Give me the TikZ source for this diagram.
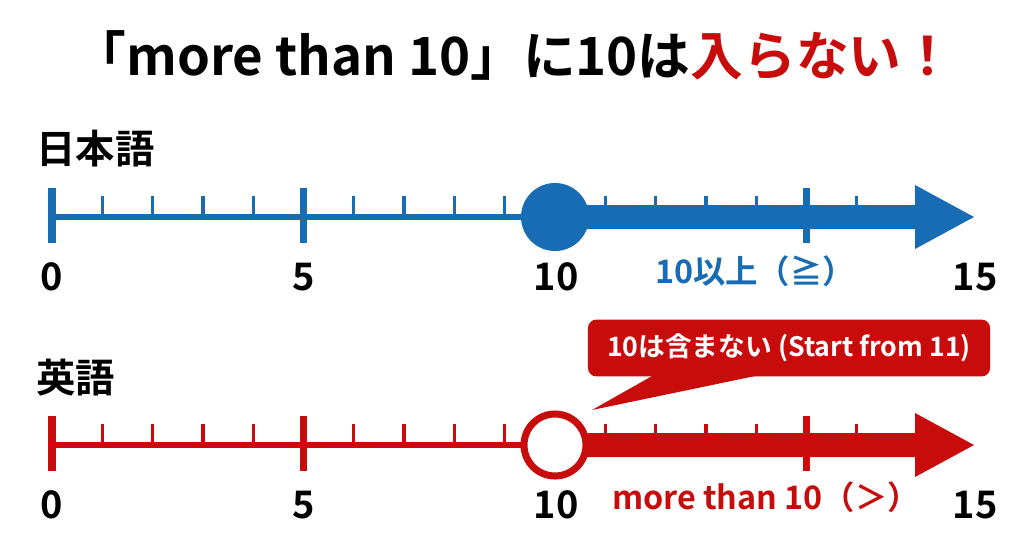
\documentclass[tikz,border=0pt]{standalone}
\usepackage{fontspec}
\setmainfont{Noto Sans CJK JP Bold}
\usepackage{tikz}
\usetikzlibrary{arrows.meta, calc, positioning}
\definecolor{jpblue}{RGB}{24,108,180}
\definecolor{enred}{RGB}{200,12,12}
\tikzset{
  numlabel/.style={font=\fontsize{27}{27}\selectfont, text=black, inner sep=0pt},
  langlabel/.style={font=\fontsize{28}{28}\selectfont, text=black, anchor=west, inner sep=0pt},
  baseline/.style={line width=4.6pt},
  majortick/.style={line width=5.4pt},
  minortick/.style={line width=2.3pt},
}

\begin{document}
\begin{tikzpicture}[x=0.025cm,y=-0.025cm]
    \useasboundingbox[fill=white] (0,0) rectangle (1024,559);
    % title
    \node[font=\fontsize{37.5}{37.5}\selectfont, inner sep=0pt] (title) at (514,55) {「more than 10」に10は\textcolor{enred}{入らない！}};

    % Japanese: 10 included
    \begin{scope}[shift={(0,217)}, jpblue]
        \node[langlabel] (jp) at (36,-68) {日本語};
        \draw[baseline] (52,0) -- (555,0); % axis
        \foreach \i in {1,2,3,4,6,7,8,9,11,12,13,14,16}
            \draw[minortick] (52+50.3*\i,-3) -- ++(0,-18);
        \foreach \i in {0,5,15}
            \draw[majortick] (52+50.3*\i,-29) -- ++(0,55);
        \fill (555,-12) -- (915,-12) -- (915,-32) -- (974,0) -- (915,32) -- (915,12) -- (555,12) -- cycle; % thick arrow
        \fill (555,0) circle (34); % closed dot
        \node[numlabel] (jp0) at (52,60) {0};
        \node[numlabel] (jp5) at (304,60) {5};
        \node[numlabel] (jp10) at (556,60) {10};
        \node[numlabel] (jp15) at (975,60) {15};
        \node[font=\fontsize{23}{23}\selectfont, inner sep=0pt] (jpnote) at (755,54) {10以上（≧）};
    \end{scope}

    % English: 10 excluded
    \begin{scope}[shift={(0,445)}, enred]
        \node[langlabel] (en) at (36,-67) {英語};
        \draw[baseline] (52,0) -- (555,0); % axis
        \foreach \i in {1,2,3,4,6,7,8,9,11,12,13,14,16}
            \draw[minortick] (52+50.3*\i,-3) -- ++(0,-18);
        \foreach \i in {0,5,15}
            \draw[majortick] (52+50.3*\i,-29) -- ++(0,55);
        \fill (555,-12) -- (915,-12) -- (915,-32) -- (974,0) -- (915,32) -- (915,12) -- (555,12) -- cycle; % thick arrow
        \draw[line width=5pt, fill=white] (555,0) circle (31); % open dot
        \coordinate (entip) at (592,-35);
        \node[numlabel] (en0) at (52,60) {0};
        \node[numlabel] (en5) at (304,60) {5};
        \node[numlabel] (en10) at (556,60) {10};
        \node[numlabel] (en15) at (975,60) {15};
        \node[font=\fontsize{23}{23}\selectfont, inner sep=0pt] (ennote) at (766,52) {more than 10（＞）};
    \end{scope}

    % callout
    \node[fill=enred, rounded corners=6pt, minimum width=10.05cm, minimum height=1.42cm, text=white,
          font=\fontsize{19}{19}\selectfont] (callout) at (789,348) {10は含まない (Start from 11)};
    \fill[enred] ($(callout.south west)+(65,-1)$) -- (entip) -- ($(callout.south west)+(169,-1)$) -- cycle; % pointer
\end{tikzpicture}
\end{document}
